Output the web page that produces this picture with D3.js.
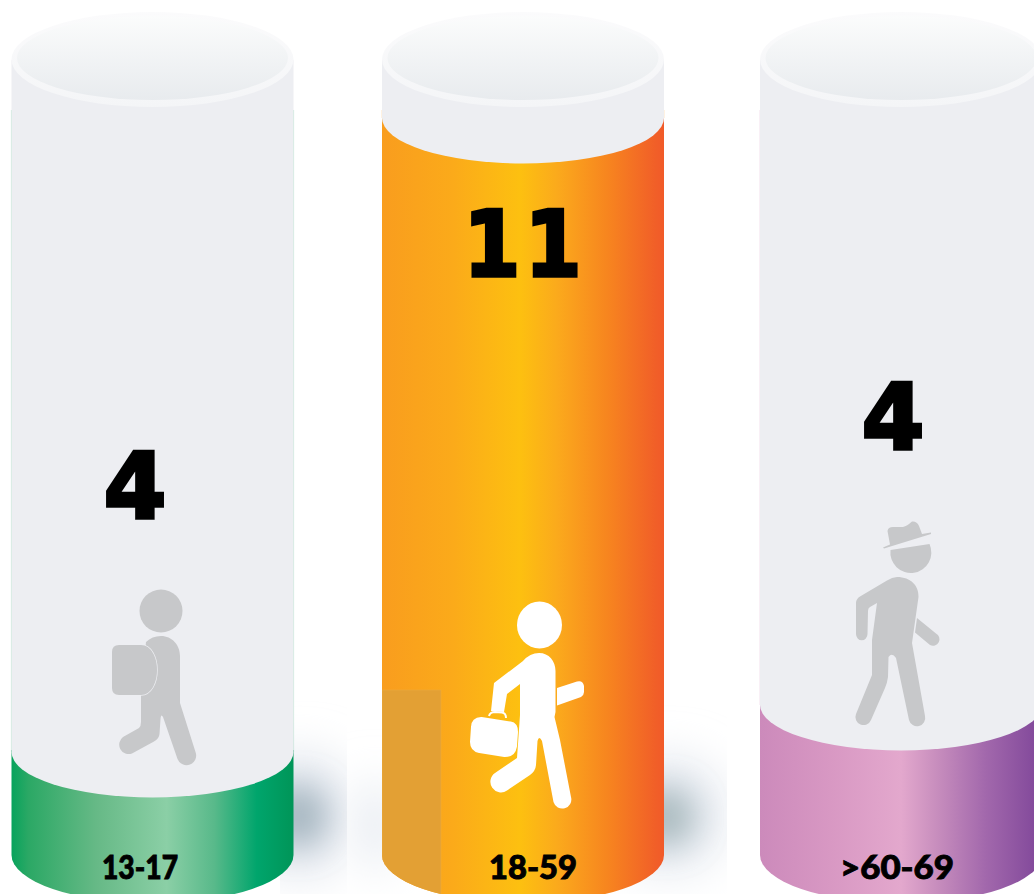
<!DOCTYPE html>
<html>
<head>
<meta charset="utf-8">
<script src="https://cdn.jsdelivr.net/npm/d3@7"></script>
<style>
  html, body { margin: 0; padding: 0; background: #fff; overflow: hidden; }
  svg { display: block; }
</style>
</head>
<body>
<div id="chart"></div>
<script>
// Data
const categories = ["13-17", "18-59", ">60-69"];
const counts = [4, 11, 4];
// how far each tube is filled; the third "4" sits higher than the first in the original
const fillLevels = [4, 11, 4.52];
const gradientStops = [
    [[0, "#07a35c"], [0.06, "#2ba865"], [0.3, "#66b986"], [0.55, "#8bcfa6"], [0.72, "#58b98a"], [0.87, "#00a56c"], [1, "#009558"]],
    [[0, "#f99d1e"], [0.25, "#fbaa1a"], [0.49, "#fdc010"], [0.62, "#fbaa1c"], [0.8, "#f7851f"], [0.97, "#f15f28"], [1, "#f15a29"]],
    [[0, "#cc8abb"], [0.25, "#d898c3"], [0.5, "#e3a8cd"], [0.62, "#c98fbe"], [0.8, "#a268ac"], [1, "#7f4699"]]
];

const width = 1034, height = 894;
const tubeWidth = 282, topY = 60, bottomY = 855, rx = tubeWidth / 2;

const svg = d3.select("#chart").append("svg")
    .attr("width", width)
    .attr("height", height);
const defs = svg.append("defs");

// Scales
const xScale = d3.scaleOrdinal().domain(categories).range([11.5, 382, 760]);
const yScale = d3.scaleLinear().domain([4, 11]).range([752, 118]);

// Gradients for the fill of each tube
categories.forEach((c, i) => {
    const g = defs.append("linearGradient").attr("id", `fill${i}`);
    gradientStops[i].forEach(s => {
        g.append("stop").attr("offset", s[0]).attr("stop-color", s[1]);
    });
});
const lid = defs.append("linearGradient").attr("id", "lid")
    .attr("x1", 0).attr("x2", 0).attr("y1", 0).attr("y2", 1);
lid.append("stop").attr("offset", 0).attr("stop-color", "#fbfcfc");
lid.append("stop").attr("offset", 1).attr("stop-color", "#e8ebee");
const rim = defs.append("linearGradient").attr("id", "rim")
    .attr("x1", 0).attr("x2", 0).attr("y1", 0).attr("y2", 1);
rim.append("stop").attr("offset", 0).attr("stop-color", "#fbfbfc");
rim.append("stop").attr("offset", 1).attr("stop-color", "#f4f5f7");

defs.append("filter").attr("id", "blurBig")
    .attr("x", "-100%").attr("y", "-100%").attr("width", "300%").attr("height", "300%")
    .append("feGaussianBlur").attr("stdDeviation", 24);
defs.append("filter").attr("id", "blurSmall")
    .attr("x", "-100%").attr("y", "-100%").attr("width", "300%").attr("height", "300%")
    .append("feGaussianBlur").attr("stdDeviation", 16);
defs.append("clipPath").attr("id", "shadowClip1").append("rect")
    .attr("x", 280).attr("y", 680).attr("width", 67).attr("height", 214);
defs.append("clipPath").attr("id", "shadowClip2").append("rect")
    .attr("x", 347).attr("y", 680).attr("width", 380).attr("height", 214);

// Soft shadows behind the tubes
const shadows = svg.append("g");
const shadow1 = shadows.append("g").attr("clip-path", "url(#shadowClip1)");
shadow1.append("ellipse").attr("cx", 300).attr("cy", 815).attr("rx", 55).attr("ry", 60)
    .attr("fill", "#dfe4ec").attr("filter", "url(#blurBig)");
shadow1.append("ellipse").attr("cx", 298).attr("cy", 816).attr("rx", 28).attr("ry", 30)
    .attr("fill", "#a5b6c0").attr("filter", "url(#blurSmall)");
const shadow2 = shadows.append("g").attr("clip-path", "url(#shadowClip2)");
shadow2.append("ellipse").attr("cx", 668).attr("cy", 815).attr("rx", 55).attr("ry", 55)
    .attr("fill", "#dfe4ec").attr("filter", "url(#blurBig)");
shadow2.append("ellipse").attr("cx", 665).attr("cy", 817).attr("rx", 28).attr("ry", 28)
    .attr("fill", "#a8b9bd").attr("filter", "url(#blurSmall)");
shadow2.append("ellipse").attr("cx", 375).attr("cy", 825).attr("rx", 20).attr("ry", 45)
    .attr("fill", "#e3e8ef").attr("filter", "url(#blurBig)");

// One group per tube
const tubes = svg.selectAll(".tube")
    .data(categories)
    .enter().append("g")
    .attr("class", "tube")
    .attr("transform", d => `translate(${xScale(d)},0)`);

// Coloured fill, rounded at the bottom
tubes.append("path")
    .attr("d", (d, i) => `M0,${yScale(fillLevels[i]) - 2}V${bottomY}A${rx},48 0 0 0 ${tubeWidth},${bottomY}V${yScale(fillLevels[i]) - 2}Z`)
    .attr("fill", (d, i) => `url(#fill${i})`);

// Faint coloured edge that shows beside the grey part
tubes.append("path")
    .attr("d", (d, i) => `M0,110V${yScale(fillLevels[i])}M${tubeWidth},110V${yScale(fillLevels[i])}`)
    .attr("fill", "none")
    .attr("stroke", (d, i) => gradientStops[i][0][1])
    .attr("stroke-opacity", 0.22)
    .attr("stroke-width", 1.2);

// Empty grey part above the fill
tubes.append("path")
    .attr("d", (d, i) => `M0,${topY}V${yScale(fillLevels[i])}A${rx},45.5 0 0 0 ${tubeWidth},${yScale(fillLevels[i])}V${topY}Z`)
    .attr("fill", "#edeef2");

// Lid
tubes.append("ellipse")
    .attr("cx", rx).attr("cy", 59.5).attr("rx", rx).attr("ry", 47.5)
    .attr("fill", "url(#rim)");
tubes.append("ellipse")
    .attr("cx", rx).attr("cy", 58).attr("rx", rx - 5.5).attr("ry", 42)
    .attr("fill", "url(#lid)");

// Translucent block on the lower left of the middle tube
defs.append("clipPath").attr("id", "tubeClip").append("path")
    .attr("d", `M0,${topY}V${bottomY}A${rx},48 0 0 0 ${tubeWidth},${bottomY}V${topY}Z`);
tubes.filter(d => d === "18-59").append("g")
    .attr("clip-path", "url(#tubeClip)")
    .append("rect")
    .attr("x", 0).attr("y", 690).attr("width", 59).attr("height", 204)
    .attr("fill", "#e3a034")
    .attr("stroke", "#eeaa3c")
    .attr("stroke-width", 0.6);

// Person icons
const walkers = svg.append("g");

const student = walkers.append("g").attr("fill", "#c7c8ca");
student.append("circle").attr("cx", 161).attr("cy", 611).attr("r", 21.5);
student.append("path").attr("d",
    "M146,642Q152,636 161,636C172,636 180,645 180,656L180,703L195.500,752A9.500,9.500 0 0 1 177.500,759L163,717Q161,713 160.500,719L159.500,734Q159,739 154,741.500L132,753.500A9.500,9.500 0 0 1 123,737L139,728Q141,726 141,722L141,690Z");
student.append("path")
    .attr("d", "M119,645L141,645C151,645 157,657 157,670C157,683 151,695 141,695L119,695Q112,695 112,688L112,652Q112,645 119,645Z")
    .attr("stroke", "#edeef2")
    .attr("stroke-width", 1.5)
    .attr("paint-order", "stroke");

const worker = walkers.append("g").attr("fill", "#fff");
worker.append("ellipse").attr("cx", 539.5).attr("cy", 625).attr("rx", 22.5).attr("ry", 23.5);
worker.append("path").attr("d",
    "M523,661Q530,653 539,653C549,653 555.500,661 555.500,671L555.500,712L554.500,717L560,740L571,797A9,9 0 0 1 553.500,802L542,741Q539,735 537.500,741L536,765Q535.500,771 530,775L507,790.500A9,9 0 0 1 495,773L517,758L520,715L520,684L507,694L504,712L491,711L494,683Z");
worker.append("path").attr("d",
    "M557,688L577,681.500Q583,680 584,686L584,692Q584,695 581,697L557,705.500Z");
worker.append("path")
    .attr("d", "M481,722L510,726.500Q513,727 513,732L512,746Q511,752 505,752L480,748Q475,747 475,742L476,727Q476,722 481,722Z")
    .attr("stroke", "#fff")
    .attr("stroke-width", 10)
    .attr("stroke-linejoin", "round");
worker.append("path")
    .attr("d", "M489,716Q490,712 495,712L502,712.500Q506,713 506,718")
    .attr("fill", "none")
    .attr("stroke", "#fff")
    .attr("stroke-width", 2);

const senior = walkers.append("g").attr("fill", "#c7c8ca");
senior.append("path").attr("d", "M890.500,550A20.500,20.500 0 1 0 929.500,544Z");
senior.append("path").attr("d", "M883,547.500L890,544.500L887.500,531Q888,527 893,527L903,527Q907,526 912,521.500Q917,521 919,526L922,534L931,532.500L931,534L884,548.500Z");
senior.append("path").attr("d",
    "M887,580.500Q892,577 897,577C911,577 919,586 918.500,597L912,643L925,716A8,8 0 0 1 909,720L896,658Q892,652 888.500,657L888,677Q887,684 885,688L871,720A8,8 0 0 1 856,714L872,675L872,640L877,603L870,607Q868,608 868,611L867.500,634A5.500,6 0 0 1 856,634L856,603Q856,599 860,596.500Z");
senior.append("path").attr("d",
    "M917,618L936,633.500A5.500,5.500 0 0 1 930,645L915,632.500Z");

// Big counts
svg.selectAll(".count")
    .data(counts)
    .enter().append("text")
    .attr("class", "count")
    .attr("x", (d, i) => xScale(categories[i]) + [123.500, 143, 133][i])
    .attr("y", (d, i) => yScale(fillLevels[i]) + [-234.500, 157.500, -255.500][i])
    .attr("text-anchor", "middle")
    .attr("font-family", d => d > 9 ? "'DejaVu Sans Condensed', 'DejaVu Sans'" : "'DejaVu Sans'")
    .attr("font-weight", "bold")
    .attr("font-size", 90)
    .attr("letter-spacing", d => d > 9 ? 5 : 0)
    .attr("fill", "#000")
    .attr("stroke", "#000")
    .attr("stroke-width", 3.5)
    .text(d => d);

// Age labels, squeezed to the widths of the original lettering
const labelWidths = [76, 88, 114];
svg.selectAll(".age")
    .data(categories)
    .enter().append("text")
    .attr("class", "age")
    .attr("x", d => xScale(d) + ({"13-17": 128.5, "18-59": 151, ">60-69": 137})[d])
    .attr("y", 878.5)
    .attr("text-anchor", "middle")
    .attr("font-family", "Lato")
    .attr("font-weight", 900)
    .attr("font-size", 32)
    .attr("textLength", (d, i) => labelWidths[i])
    .attr("lengthAdjust", "spacingAndGlyphs")
    .attr("fill", "#000")
    .attr("stroke", "#000")
    .attr("stroke-width", 0.9)
    .text(d => d);
</script>
</body>
</html>
